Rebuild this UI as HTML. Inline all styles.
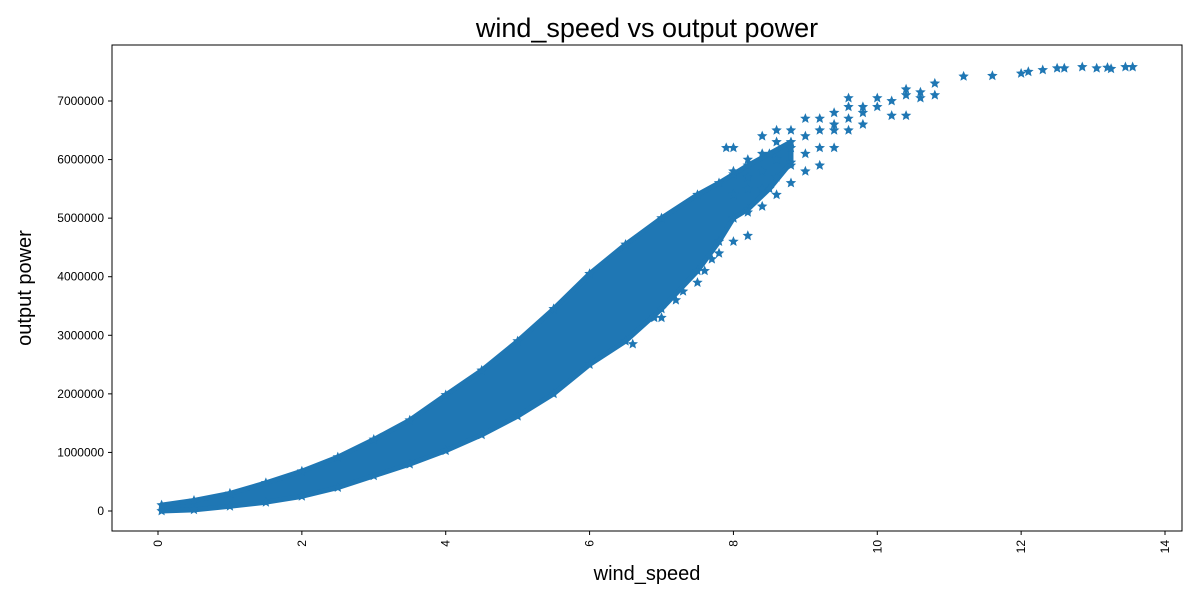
<!DOCTYPE html>
<html><head><meta charset="utf-8"><style>
body{margin:0;background:#fff;font-family:"Liberation Sans",sans-serif}
svg{display:block}
</style></head><body>
<svg id="chart" width="1200" height="600">
<text x="647" y="37" font-size="27" text-anchor="middle" fill="#000">wind_speed vs output power</text>
<text x="647" y="580" font-size="20" text-anchor="middle">wind_speed</text>
<text transform="translate(31,288) rotate(-90)" font-size="20" text-anchor="middle">output power</text>
<g id="plot"></g>
<rect x="112" y="45" width="1070" height="486" fill="none" stroke="#000" stroke-width="1"/>
</svg>
<script>
const bandX=[0.05,0.5,1,1.5,2,2.5,3,3.5,4,4.5,5,5.5,6,6.5,7,7.5,7.8,8.0,8.2,8.5,8.8];
const bandLow=[0.0,0.02,0.08,0.15,0.25,0.4,0.6,0.8,1.03,1.3,1.62,2.0,2.5,2.9,3.45,4.1,4.6,5.0,5.15,5.5,5.95];
const bandHigh=[0.1,0.18,0.3,0.48,0.68,0.92,1.22,1.55,1.98,2.4,2.9,3.45,4.05,4.55,5.0,5.4,5.6,5.75,5.9,6.1,6.3];
const sparseX=[6.6,6.9,7.0,7.2,7.3,7.5,7.6,7.7,7.8,7.9,
8.0,8.0,8.0,8.0,8.0,8.2,8.2,8.2,8.2,8.2,8.4,8.4,8.4,8.4,8.4,8.6,8.6,8.6,8.6,8.6,
8.8,8.8,8.8,8.8,9.0,9.0,9.0,9.0,9.2,9.2,9.2,9.2,9.4,9.4,9.4,9.4,9.6,9.6,9.6,9.6,
9.8,9.8,9.8,10.0,10.0,10.2,10.2,10.4,10.4,10.4,10.6,10.6,10.8,10.8,
11.2,11.6,12.0,12.1,12.3,12.5,12.6,12.85,13.05,13.2,13.25,13.45,13.55];
const sparseY=[2.85,3.3,3.3,3.6,3.75,3.9,4.1,4.3,4.4,6.2,
4.6,5.0,5.4,5.8,6.2,4.7,5.1,5.5,5.7,6.0,5.2,5.5,5.8,6.1,6.4,5.4,5.7,6.0,6.3,6.5,
5.6,5.9,6.2,6.5,5.8,6.1,6.4,6.7,5.9,6.2,6.5,6.7,6.2,6.5,6.8,6.6,6.5,6.7,6.9,7.05,
6.6,6.8,6.9,6.9,7.05,6.75,7.0,6.75,7.1,7.2,7.05,7.15,7.1,7.3,
7.42,7.43,7.47,7.5,7.53,7.56,7.56,7.58,7.56,7.57,7.55,7.58,7.58];
const xTicks=[0,2,4,6,8,10,12,14];
const yTicks=[0,1000000,2000000,3000000,4000000,5000000,6000000,7000000];

const NS="http://www.w3.org/2000/svg";
const sx=v=>158+v*(1165-158)/14;
const sy=v=>511-v*(511-101)/7000000;
const g=document.getElementById('plot');
const C="#1f77b4";
function mk(t,a){const e=document.createElementNS(NS,t);for(const k in a)e.setAttribute(k,a[k]);return e;}
function starPts(cx,cy,r){let p=[];for(let i=0;i<10;i++){const rr=i%2?r*0.45:r;const a=-Math.PI/2+i*Math.PI/5;p.push((cx+rr*Math.cos(a)).toFixed(1)+","+(cy+rr*Math.sin(a)).toFixed(1));}return p.join(" ");}

xTicks.forEach(t=>{
  const x=sx(t);
  const l=mk('line',{x1:x,x2:x,y1:531,y2:535,stroke:'#000'});
  
  
  g.appendChild(l);
  const tx=mk('text',{transform:`translate(${x+4},${540}) rotate(-90)`,'font-size':12,'text-anchor':'end'});
  tx.textContent=t;
  
  
  g.appendChild(tx);
});
yTicks.forEach(t=>{
  const y=sy(t);
  const l=mk('line',{x1:108,x2:112,y1:y,y2:y,stroke:'#000'});
  
  
  g.appendChild(l);
  const tx=mk('text',{x:104,y:y+4,'font-size':12,'text-anchor':'end'});
  tx.textContent=t;
  
  
  g.appendChild(tx);
});

let pts=[];
bandX.forEach((x,i)=>pts.push(sx(x)+","+sy(bandHigh[i]*1e6)));
for(let i=bandX.length-1;i>=0;i--)pts.push(sx(bandX[i])+","+sy(bandLow[i]*1e6));
const band=mk('polygon',{points:pts.join(" "),fill:C,stroke:C,'stroke-width':5,'stroke-linejoin':'round'});


g.appendChild(band);
bandX.forEach((x,i)=>{
  [bandLow[i],bandHigh[i]].forEach(v=>{
    const s=mk('polygon',{points:starPts(sx(x),sy(v*1e6),5.5),fill:C});
    
    
    g.appendChild(s);
  });
});
sparseX.forEach((x,i)=>{
  const s=mk('polygon',{points:starPts(sx(x),sy(sparseY[i]*1e6),5.5),fill:C});
  
  
  g.appendChild(s);
});
</script>
</body></html>
